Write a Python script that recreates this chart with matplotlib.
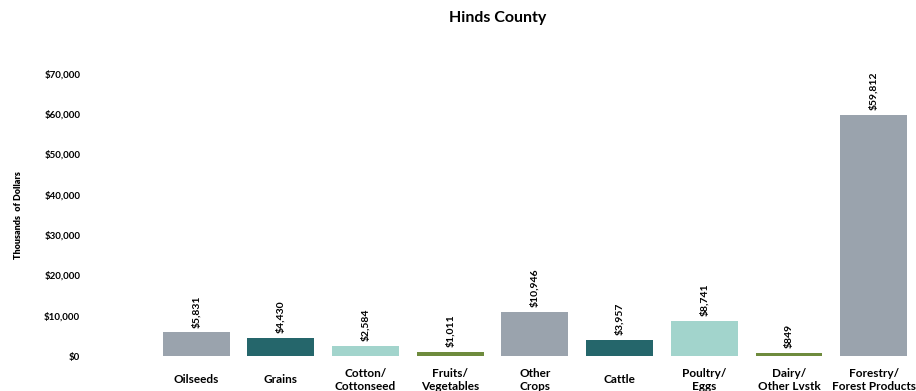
import numpy as np
import matplotlib
matplotlib.use("Agg")
import matplotlib.pyplot as plt
from matplotlib.ticker import FuncFormatter

# -------------------------
# Data
# -------------------------
categories = ["Oilseeds", "Grains", "Cotton/\nCottonseed", "Fruits/\nVegetables",
              "Other\nCrops", "Cattle", "Poultry/\nEggs", "Dairy/\nOther Lvstk",
              "Forestry/\nForest Products"]
values = [5831, 4430, 2584, 1011, 10946, 3957, 8741, 849, 59812]
bar_colors = ["#9AA3AD", "#25666B", "#A2D4CC", "#6E8B3D",
              "#9AA3AD", "#25666B", "#A2D4CC", "#6E8B3D", "#9AA3AD"]
y_ticks = [0, 10000, 20000, 30000, 40000, 50000, 60000, 70000]

plt.rcParams['font.family'] = ['Lato', 'DejaVu Sans']

# -------------------------
# Figure
# -------------------------
fig = plt.figure(figsize=(9.16, 3.91), dpi=100)
ax = fig.add_axes([0.168, 0.0895, 0.832, 0.722])

x = np.arange(len(categories))
bars = ax.bar(x, values, width=0.79, color=bar_colors)

for b, v in zip(bars, values):
    ax.annotate(f"${v:,}", (b.get_x() + b.get_width() / 2, v),
                xytext=(0, 3.5), textcoords="offset points",
                rotation=90, ha="center", va="bottom",
                fontsize=7.5, fontweight="bold")

ax.set_xlim(-0.5, len(categories) - 0.5)
ax.set_ylim(0, 70000)
ax.set_yticks(y_ticks)
ax.yaxis.set_major_formatter(FuncFormatter(lambda v, p: f"${v:,.0f}"))
ax.set_xticks(x)
ax.set_xticklabels(categories, fontsize=8.5, fontweight="bold")
for lab in ax.get_xticklabels():
    lab.set_verticalalignment("center")
ax.tick_params(axis="x", length=0, pad=17)
ax.tick_params(axis="y", length=0, pad=53, labelsize=7)
for lab in ax.get_yticklabels():
    lab.set_fontweight("bold")

for s in ax.spines.values():
    s.set_visible(False)

ax.set_ylabel("Thousands  of Dollars", fontsize=6.5, fontweight="heavy")
ax.yaxis.set_label_coords(-0.172, 0.5)
fig.text(0.543, 0.953, "Hinds County", ha="center", va="center",
         fontsize=11.5, fontweight="bold")

fig.savefig("out.png", dpi=100)
